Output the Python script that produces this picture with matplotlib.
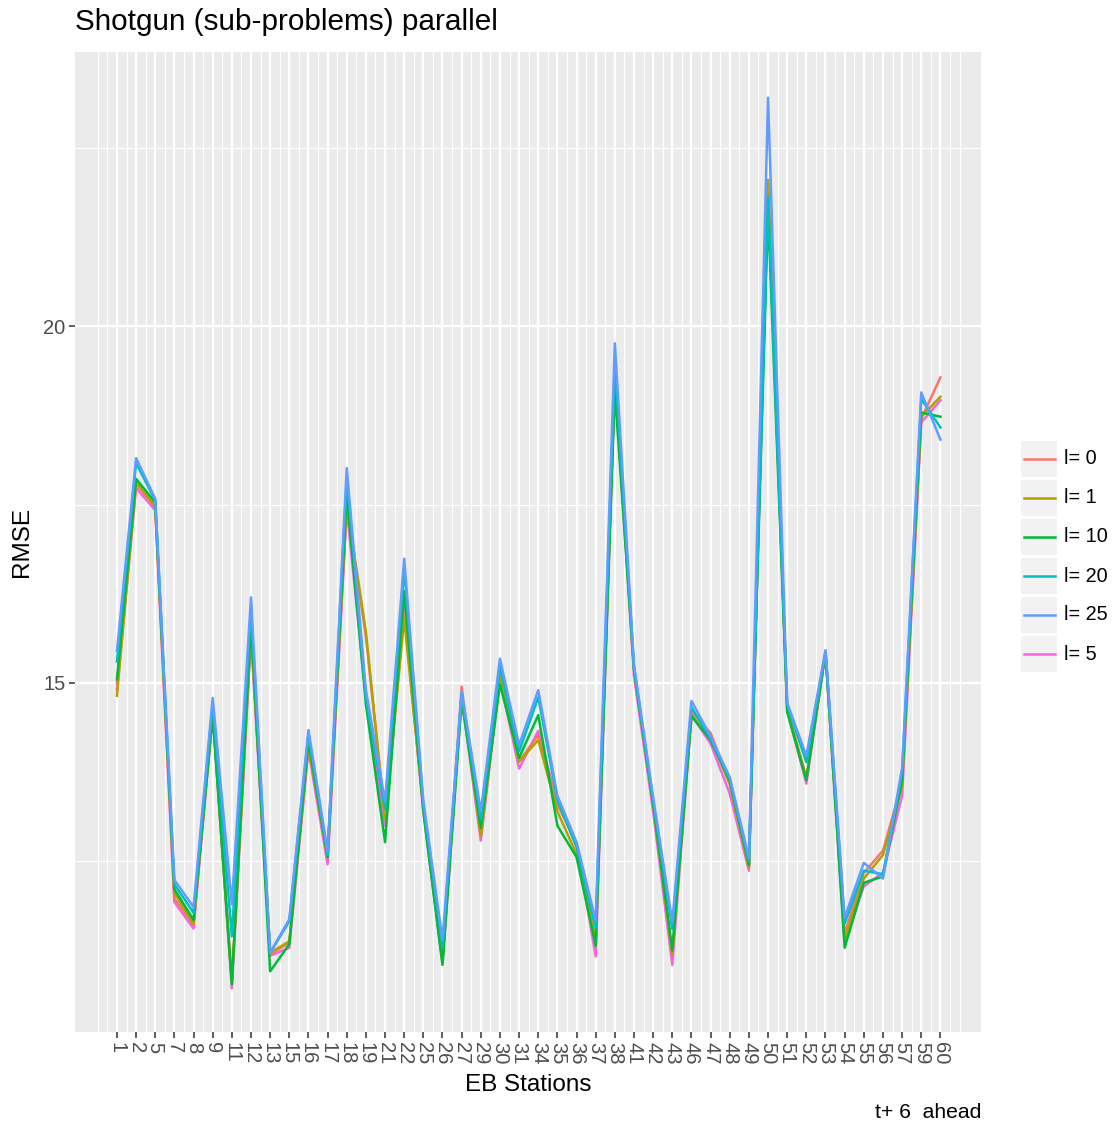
import numpy as np
import matplotlib.pyplot as plt
from matplotlib.patches import Rectangle
from matplotlib.lines import Line2D

plt.rcParams['font.family'] = ['Liberation Sans', 'DejaVu Sans']

stations = [1, 2, 5, 7, 8, 9, 11, 12, 13, 15, 16, 17, 18, 19, 21, 22, 25, 26, 27, 29,
            30, 31, 34, 35, 36, 37, 38, 41, 42, 43, 46, 47, 48, 49, 50, 51, 52, 53,
            54, 55, 56, 57, 59, 60]

levels = ['l= 0', 'l= 1', 'l= 10', 'l= 20', 'l= 25', 'l= 5']
colors = ['#F8766D', '#B79F00', '#00BA38', '#00BFC4', '#619CFF', '#F564E3']

rmse_l0 = [15.00, 17.79, 17.46, 11.98, 11.61, 14.60, 10.82, 15.70, 11.20, 11.36,
           14.11, 12.55, 17.49, 15.65, 13.10, 16.04, 13.25, 11.10, 14.95, 12.85,
           15.10, 13.90, 14.27, 13.30, 12.75, 11.32, 19.30, 15.20, 13.30, 11.20,
           14.60, 14.30, 13.60, 12.40, 22.00, 14.64, 13.67, 15.44, 11.49, 12.34,
           12.65, 13.60, 18.70, 19.28]
rmse_l1 = [14.82, 17.81, 17.48, 12.06, 11.63, 14.58, 10.80, 15.75, 11.22, 11.38,
           14.12, 12.56, 17.50, 15.72, 13.10, 15.90, 13.25, 11.10, 14.85, 12.86,
           15.08, 13.90, 14.20, 13.20, 12.60, 11.41, 19.25, 15.20, 13.30, 11.20,
           14.55, 14.22, 13.58, 12.42, 22.05, 14.64, 13.66, 15.43, 11.40, 12.26,
           12.59, 13.55, 18.73, 19.01]
rmse_l10 = [15.05, 17.86, 17.53, 12.11, 11.68, 14.54, 10.78, 15.85, 10.96, 11.34,
            14.19, 12.56, 17.64, 14.70, 12.77, 16.29, 13.20, 11.05, 14.75, 12.97,
            14.98, 13.95, 14.55, 13.00, 12.56, 11.32, 19.10, 15.18, 13.30, 11.25,
            14.54, 14.20, 13.63, 12.45, 21.60, 14.59, 13.64, 15.42, 11.29, 12.20,
            12.29, 13.64, 18.79, 18.73]
rmse_l20 = [15.30, 18.08, 17.56, 12.18, 11.78, 14.71, 11.45, 16.05, 11.22, 11.66,
            14.29, 12.59, 17.89, 14.80, 13.24, 16.59, 13.30, 11.30, 14.85, 13.09,
            15.22, 14.04, 14.80, 13.36, 12.70, 11.56, 19.50, 15.22, 13.35, 11.55,
            14.66, 14.22, 13.65, 12.50, 21.80, 14.70, 13.89, 15.44, 11.63, 12.37,
            12.32, 13.75, 18.98, 18.58]
rmse_l25 = [15.45, 18.15, 17.58, 12.24, 11.86, 14.79, 11.90, 16.20, 11.22, 11.69,
            14.34, 12.64, 18.01, 14.90, 13.34, 16.74, 13.35, 11.40, 14.88, 13.20,
            15.34, 14.13, 14.90, 13.42, 12.77, 11.67, 19.76, 15.25, 13.40, 11.65,
            14.75, 14.25, 13.68, 12.55, 23.20, 14.72, 13.98, 15.46, 11.71, 12.48,
            12.26, 13.81, 19.07, 18.41]
rmse_l5 = [14.90, 17.73, 17.42, 11.93, 11.56, 14.58, 10.72, 15.65, 11.18, 11.29,
           14.06, 12.46, 17.44, 14.80, 13.00, 16.00, 13.20, 11.08, 14.80, 12.79,
           15.05, 13.80, 14.33, 13.32, 12.75, 11.17, 19.30, 15.10, 13.20, 11.05,
           14.55, 14.15, 13.45, 12.37, 21.90, 14.62, 13.59, 15.42, 11.37, 12.15,
           12.34, 13.42, 18.65, 18.96]

series = [rmse_l0, rmse_l1, rmse_l10, rmse_l20, rmse_l25, rmse_l5]
# stacking: l=5 underneath, l=25 on top
zorders = [2.2, 2.3, 2.4, 2.5, 2.6, 2.1]

W, H = 1118, 1128
fig = plt.figure(figsize=(W / 100, H / 100), dpi=100)
ax = fig.add_axes([75 / W, 1 - 1032 / H, (981 - 75) / W, (1032 - 52) / H])
ax.set_facecolor('#EBEBEB')
for s in ax.spines.values():
    s.set_visible(False)

x = np.arange(1, len(stations) + 1)
for vals, c, lab, z in zip(series, colors, levels, zorders):
    ax.plot(x, vals, color=c, lw=1.8, label=lab, zorder=z, solid_joinstyle='round')

ax.set_xlim(-1.19, 46.12)
ax.set_ylim(10.11, 23.84)

ax.set_xticks(x)
ax.set_xticklabels([str(s) for s in stations], rotation=270, fontsize=14.5,
                   color='#4D4D4D', va='top', ha='center')
ax.set_xticks(np.arange(0, 45.5, 0.5), minor=True)
ax.set_yticks([15, 20])
ax.set_yticklabels(['15', '20'], fontsize=14.5, color='#4D4D4D')
ax.set_yticks([12.5, 17.5, 22.5], minor=True)

ax.grid(which='major', color='white', lw=1.6)
ax.grid(which='minor', color='white', lw=0.8)
ax.set_axisbelow(True)
ax.tick_params(which='major', length=4, width=1.1, color='#333333', pad=3)
ax.tick_params(which='minor', length=0)

ax.set_xlabel('EB Stations', fontsize=17.5, labelpad=7)
ax.set_ylabel('RMSE', fontsize=17.5, labelpad=7)
fig.text(75 / W, 1 - 22 / H, 'Shotgun (sub-problems) parallel', fontsize=21.4,
         ha='left', va='center')
fig.text(981 / W, 1 - 1113 / H, 't+ 6  ahead', fontsize=15.2, ha='right', va='center')

# legend drawn as grey key boxes with a line sample in each
for i, (c, lab) in enumerate(zip(colors, levels)):
    cy = 459 + 39 * i
    fig.add_artist(Rectangle((1021 / W, 1 - (cy + 18) / H), 36 / W, 36 / H,
                             transform=fig.transFigure, facecolor='#F2F2F2',
                             edgecolor='none'))
    fig.add_artist(Line2D([1024 / W, 1055 / W], [1 - cy / H, 1 - cy / H],
                          transform=fig.transFigure, color=c, lw=1.8))
    fig.text(1064 / W, 1 - cy / H, lab, fontsize=14.3, ha='left', va='center')

fig.savefig('out.png', dpi=100)
